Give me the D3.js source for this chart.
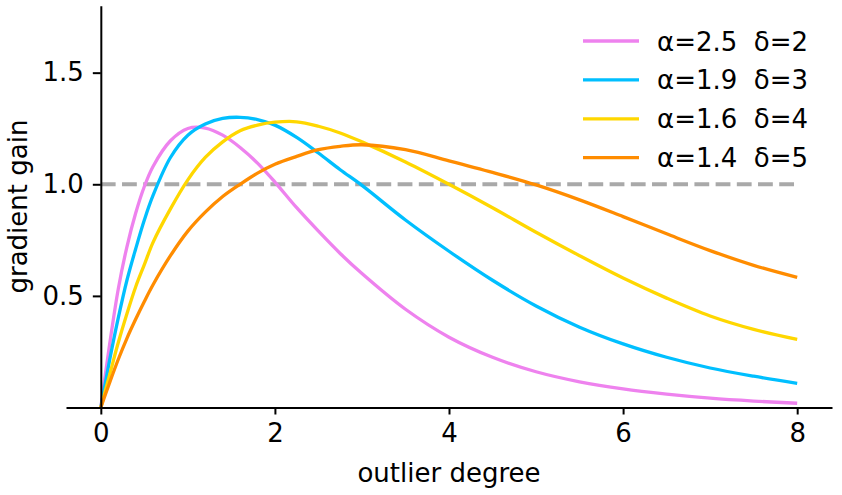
<!DOCTYPE html>
<html>
<head>
<meta charset="utf-8">
<script src="https://cdn.jsdelivr.net/npm/d3@7"></script>
<style>
  body { margin: 0; background: #fff; }
  text { font-family: "DejaVu Sans", sans-serif; font-size: 26px; fill: #000; }
</style>
</head>
<body>
<div class="chart"></div>
<script>
var svgWidth = 842;
var svgHeight = 495;

// values
var degrees = [0, 0.1, 0.2, 0.3, 0.4, 0.5, 0.6, 0.8, 1.0, 1.2, 1.4, 1.6, 1.8, 2.0, 2.25, 2.5,
  2.75, 3.0, 3.5, 4.0, 4.5, 5.0, 5.5, 6.0, 6.5, 7.0, 7.5, 8.0];
var gainA = [0, 0.28, 0.53, 0.72, 0.87, 0.99, 1.08, 1.195, 1.25, 1.252, 1.22, 1.165, 1.095, 1.01, 0.895, 0.79,
  0.69, 0.60, 0.44, 0.315, 0.225, 0.16, 0.115, 0.083, 0.06, 0.042, 0.029, 0.019];
var gainB = [0, 0.21, 0.40, 0.57, 0.71, 0.84, 0.95, 1.12, 1.22, 1.27, 1.295, 1.30, 1.29, 1.265, 1.21, 1.14,
  1.065, 0.995, 0.84, 0.70, 0.57, 0.455, 0.36, 0.285, 0.225, 0.177, 0.14, 0.108];
var gainC = [0, 0.145, 0.29, 0.42, 0.54, 0.64, 0.74, 0.89, 1.02, 1.12, 1.19, 1.24, 1.265, 1.278, 1.28, 1.26,
  1.23, 1.19, 1.10, 1.0, 0.895, 0.785, 0.68, 0.58, 0.49, 0.41, 0.35, 0.305];
var gainD = [0, 0.11, 0.215, 0.31, 0.395, 0.475, 0.55, 0.68, 0.79, 0.875, 0.945, 1.0, 1.05, 1.09, 1.125, 1.155,
  1.17, 1.177, 1.155, 1.105, 1.053, 0.997, 0.93, 0.855, 0.778, 0.703, 0.637, 0.583];
var seriesLabels = ["α=2.5  δ=2", "α=1.9  δ=3", "α=1.6  δ=4", "α=1.4  δ=5"];
var seriesColors = ["violet", "deepskyblue", "gold", "darkorange"];
var xTicks = [0, 2, 4, 6, 8];
var yTicks = [0.5, 1.0, 1.5];
var refLevel = 1.0;

var series = [gainA, gainB, gainC, gainD].map(function(vals, i) {
  return {
    label: seriesLabels[i],
    color: seriesColors[i],
    points: degrees.map(function(x, j) { return [x, vals[j]]; })
  };
});

var svg = d3.select(".chart")
  .append("svg")
  .attr("width", svgWidth)
  .attr("height", svgHeight);

var xScale = d3.scaleLinear()
  .domain([-0.4, 8.4])
  .range([66, 832]);

var yScale = d3.scaleLinear()
  .domain([0, 1.8])
  .range([407.5, 5.7]);

// dashed reference line at gain = 1
svg.append("line")
  .attr("x1", xScale(0))
  .attr("x2", xScale(8))
  .attr("y1", yScale(refLevel))
  .attr("y2", yScale(refLevel))
  .attr("stroke", "darkgray")
  .attr("stroke-width", 4)
  .attr("stroke-dasharray", "14.8,6.4");

var line = d3.line()
  .x(d => xScale(d[0]))
  .y(d => yScale(d[1]))
  .curve(d3.curveCatmullRom.alpha(0.5));

svg.selectAll(".curve")
  .data(series)
  .enter()
  .append("path")
  .attr("class", "curve")
  .attr("d", d => line(d.points))
  .attr("fill", "none")
  .attr("stroke", d => d.color)
  .attr("stroke-width", 3.3);

// bottom axis along y = 0
var bottomAxis = d3.axisBottom(xScale)
  .tickValues(xTicks)
  .tickFormat(d3.format("d"))
  .tickSizeInner(7)
  .tickSizeOuter(0)
  .tickPadding(9);

var xAxis = svg.append("g")
  .attr("transform", `translate(0, ${yScale(0)})`)
  .call(bottomAxis);

// left axis placed at x = 0
var leftAxis = d3.axisLeft(yScale)
  .tickValues(yTicks)
  .tickFormat(d3.format(".1f"))
  .tickSizeInner(8)
  .tickSizeOuter(0)
  .tickPadding(9);

var yAxis = svg.append("g")
  .attr("transform", `translate(${xScale(0)}, 0)`)
  .call(leftAxis);

[xAxis, yAxis].forEach(function(ax) {
  ax.select(".domain").attr("stroke", "#000").attr("stroke-width", 2);
  ax.selectAll(".tick line").attr("stroke", "#000").attr("stroke-width", 2);
  ax.selectAll(".tick text")
    .attr("fill", "#000")
    .style("font-family", "DejaVu Sans")
    .style("font-size", "26px");
});

// axis labels
svg.append("text")
  .attr("x", (xScale.range()[0] + xScale.range()[1]) / 2)
  .attr("y", 482)
  .attr("text-anchor", "middle")
  .text("outlier degree");

svg.append("text")
  .attr("transform", "rotate(-90)")
  .attr("x", -(yScale.range()[0] + yScale.range()[1]) / 2)
  .attr("y", 27)
  .attr("text-anchor", "middle")
  .text("gradient gain");

// legend
var legend = svg.append("g")
  .attr("transform", "translate(583, 41)");

var rows = legend.selectAll(".row")
  .data(series)
  .enter()
  .append("g")
  .attr("class", "row")
  .attr("transform", (d, i) => `translate(0, ${i * 38.9})`);

rows.append("line")
  .attr("x1", 0)
  .attr("x2", 56)
  .attr("stroke", d => d.color)
  .attr("stroke-width", 3.3);

rows.append("text")
  .attr("x", 74)
  .attr("y", 9.5)
  .style("white-space", "pre")
  .text(d => d.label);
</script>
</body>
</html>
